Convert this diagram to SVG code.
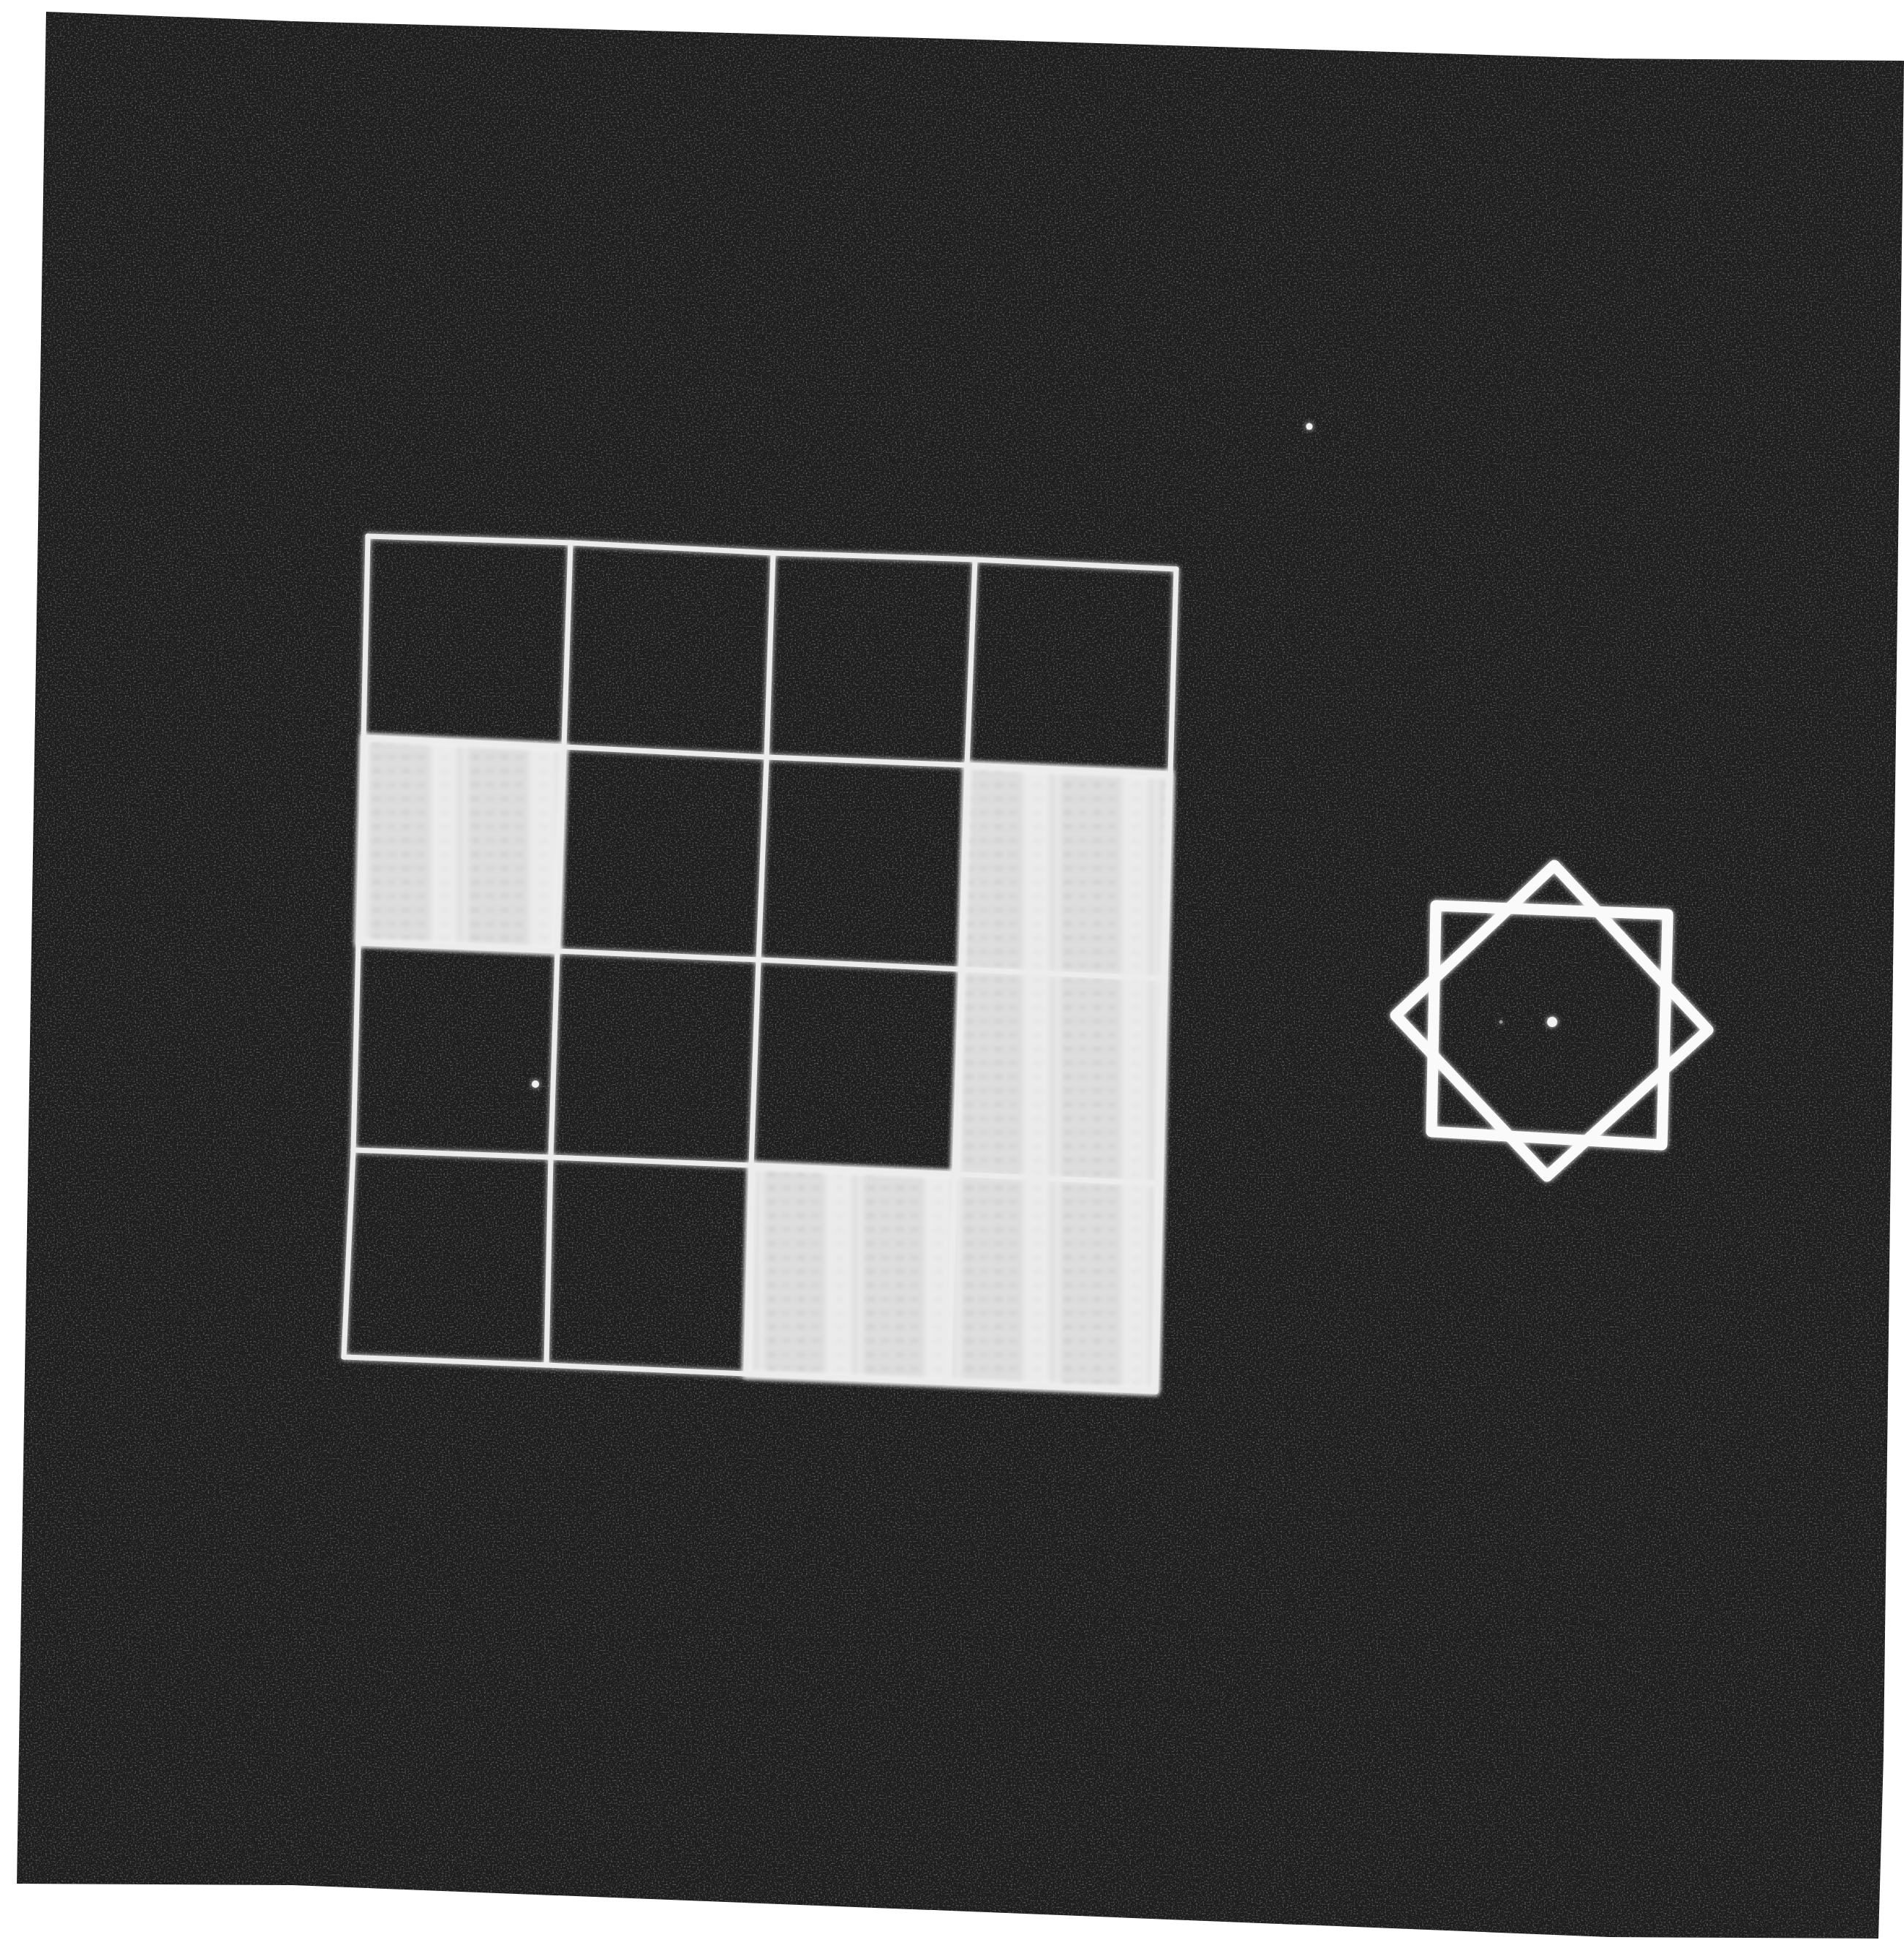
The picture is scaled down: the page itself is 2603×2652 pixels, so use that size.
<svg xmlns="http://www.w3.org/2000/svg" width="2603" height="2652" viewBox="0 0 2603 2652">
<style>
.line{fill:none;stroke:#ececec;stroke-width:7;stroke-linejoin:round;stroke-linecap:round}
.lit{fill:url(#raster);stroke:#f4f4f4;stroke-width:10;stroke-linejoin:round}
.star{fill:none;stroke:#fafafa;stroke-width:15;stroke-linejoin:round}
.dot{fill:#f2f2f2}
</style>
<defs>
<clipPath id="screenClip"><path id="screenShape" d="M63,16 L400,29 L1300,53 L2200,80 L2603,83 L2575,2400 L2568,2650 L2200,2648 L1300,2612 L400,2577 L23,2575 Z"/></clipPath>
<filter id="noise" x="0" y="0" width="100%" height="100%">
<feTurbulence type="fractalNoise" baseFrequency="0.45" numOctaves="2" seed="7" result="t"/>
<feColorMatrix type="matrix" values="0 0 0 0 0.35  0 0 0 0 0.35  0 0 0 0 0.35  0 0 0 1.4 -0.72"/>
</filter>
<filter id="glow" x="-5%" y="-5%" width="110%" height="110%">
<feGaussianBlur in="SourceGraphic" stdDeviation="3.5" result="b"/>
<feMerge><feMergeNode in="b"/><feMergeNode in="SourceGraphic"/></feMerge>
</filter>
<filter id="soft" x="-5%" y="-5%" width="110%" height="110%">
<feGaussianBlur stdDeviation="3"/>
</filter>
<pattern id="raster" patternUnits="userSpaceOnUse" x="497" y="0" width="135" height="19">
<rect width="135" height="19" fill="#dedede"/>
<rect x="12" y="7" width="12" height="4" fill="#9a9a9a" opacity="0.35"/>
<rect x="32" y="7" width="12" height="4" fill="#9a9a9a" opacity="0.25"/>
<rect x="52" y="7" width="12" height="4" fill="#9a9a9a" opacity="0.35"/>
<rect x="72" y="7" width="12" height="4" fill="#9a9a9a" opacity="0.25"/>
<rect x="0" width="8" height="19" fill="#e8e8e8"/>
<rect x="92" width="36" height="19" fill="#ebebeb"/>
<rect x="106" y="8" width="10" height="3" fill="#bdbdbd" opacity="0.3"/>
</pattern>
</defs>

<rect width="2603" height="2652" fill="#ffffff"/>
<g id="screen">
<use href="#screenShape" fill="#1e1e1e"/>
<rect width="2603" height="2652" filter="url(#noise)" clip-path="url(#screenClip)"/>
</g>

<g id="lit-cells" filter="url(#soft)">
<path id="cell-r1c0" class="lit" d="M497,1008 L771,1021 L762,1300 L490,1289 Z"/>
<path id="cells-L" class="lit" d="M1322,1046 L1600,1058 L1593,1338 L1587,1618 L1580,1902 L1297,1891 L1020,1880 L1027,1593 L1305,1605 L1314,1325 Z"/>
</g>

<g id="grid" filter="url(#glow)">
<path class="line" d="M503,733 L780,742 L1057,756 L1333,765 L1608,778"/>
<path class="line" d="M497,1008 L771,1021 L1048,1035 L1322,1046 L1600,1058"/>
<path class="line" d="M490,1289 L762,1300 L1037,1312 L1314,1325 L1593,1338"/>
<path class="line" d="M483,1572 L753,1582 L1027,1593 L1305,1605 L1587,1618"/>
<path class="line" d="M470,1855 L747,1866 L1020,1878 L1297,1890 L1580,1902"/>
<path class="line" d="M503,733 L497,1008 L490,1289 L483,1572 L470,1855"/>
<path class="line" d="M780,742 L771,1021 L762,1300 L753,1582 L747,1866"/>
<path class="line" d="M1057,756 L1048,1035 L1037,1312 L1027,1593 L1020,1878"/>
<path class="line" d="M1333,765 L1322,1046 L1314,1325 L1305,1605 L1297,1890"/>
<path class="line" d="M1608,778 L1600,1058 L1593,1338 L1587,1618 L1580,1902"/>
</g>

<g id="star" filter="url(#glow)">
<path id="star-square" class="star" d="M1963,1238 L2280,1250 L2272,1565 L1957,1547 Z"/>
<path id="star-diamond" class="star" d="M2125,1183 L2335,1408 L2115,1608 L1908,1388 Z"/>
<circle id="star-center" class="dot" cx="2122" cy="1397" r="7"/>
<circle class="dot" cx="2052" cy="1397" r="2.5" opacity="0.5"/>
</g>

<g id="stray-dots" filter="url(#glow)">
<circle class="dot" cx="1790" cy="583" r="4.5"/>
<circle class="dot" cx="732" cy="1482" r="5"/>
</g>
</svg>
